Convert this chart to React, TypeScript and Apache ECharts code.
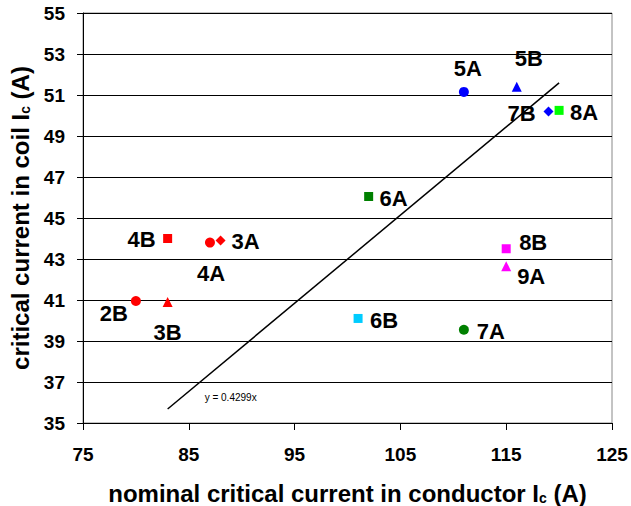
import React, { useEffect, useRef } from "react";
import * as echarts from "echarts";

// Measured samples
const sampleNames = ["2B", "3B", "4A", "4B", "3A", "5A", "5B", "7B", "8A", "6A", "8B", "9A", "6B", "7A"];
const nominalIc = [80, 83, 87, 83, 88, 111, 116, 119, 120, 102, 115, 115, 101, 111];
const coilIc = [40.95, 40.9, 43.8, 44.0, 43.9, 51.15, 51.4, 50.2, 50.25, 46.05, 43.5, 42.65, 40.1, 39.55];

// Trend line y = 0.4299x
const trendSlope = 0.4299;
const trendRange = [83, 120];
const trendLabel = "y = 0.4299x";

// x / y axis ranges
const xTicks = [75, 85, 95, 105, 115, 125];
const yTicks = [35, 37, 39, 41, 43, 45, 47, 49, 51, 53, 55];

// Marker styles per sample (symbol, colour, label offset)
const markerStyle: Record<string, { symbol: string; color: string; size: number; offset: [number, number] }> = {
  "2B": { symbol: "circle", color: "#FF0000", size: 10, offset: [-22, 12] },
  "3B": { symbol: "triangle", color: "#FF0000", size: 10, offset: [0, 30] },
  "4A": { symbol: "circle", color: "#FF0000", size: 10, offset: [1, 31] },
  "4B": { symbol: "rect", color: "#FF0000", size: 9, offset: [-26, 1] },
  "3A": { symbol: "diamond", color: "#FF0000", size: 10, offset: [25, 1] },
  "5A": { symbol: "circle", color: "#0000FF", size: 10, offset: [4, -23] },
  "5B": { symbol: "triangle", color: "#0000FF", size: 10, offset: [12, -28] },
  "7B": { symbol: "diamond", color: "#0000FF", size: 10, offset: [-27, 2] },
  "8A": { symbol: "rect", color: "#00FF00", size: 9, offset: [25, 2] },
  "6A": { symbol: "rect", color: "#008000", size: 9, offset: [25, 2] },
  "8B": { symbol: "rect", color: "#FF00FF", size: 9, offset: [27, -6] },
  "9A": { symbol: "triangle", color: "#FF00FF", size: 10, offset: [25, 10] },
  "6B": { symbol: "rect", color: "#00CCFF", size: 9, offset: [26, 2] },
  "7A": { symbol: "circle", color: "#008000", size: 10, offset: [27, 2] },
};

const FONT = "'Liberation Sans', Arial, Helvetica, sans-serif";

export default function App() {
  const ref = useRef<HTMLDivElement>(null);
  useEffect(() => {
    if (!ref.current) return;
    const chart = echarts.init(ref.current, undefined, { renderer: "svg" });

    const pointData = sampleNames.map((n, i) => {
      const s = markerStyle[n];
      return {
        name: n,
        value: [nominalIc[i], coilIc[i]],
        symbol: s.symbol,
        symbolSize: s.size,
        itemStyle: { color: s.color, opacity: 1 },
        label: {
          show: true,
          position: "inside",
          offset: s.offset,
          formatter: n,
          color: "#000",
          fontFamily: FONT,
          fontWeight: "bold",
          fontSize: 22,
          align: "center",
          verticalAlign: "middle",
        },
      };
    });

    const trendData = trendRange.map((x) => [x, trendSlope * x]);

    const subRich = {
      sub: { fontFamily: FONT, fontWeight: "bold", fontSize: 14, color: "#000", verticalAlign: "bottom", padding: [10, 0, 0, 0] },
    };

    chart.setOption({
      animation: false,
      backgroundColor: "#fff",
      grid: {
        left: 83,
        right: 19,
        top: 13,
        bottom: 83,
        show: true,
        borderColor: "#888",
        borderWidth: 1,
        backgroundColor: "transparent",
        outerBoundsMode: "none",
        containLabel: false,
      },
      xAxis: {
        type: "value",
        min: xTicks[0],
        max: xTicks[xTicks.length - 1],
        interval: 10,
        name: "nominal critical current in conductor I{sub|c} (A)",
        nameLocation: "middle",
        nameGap: 58,
        nameTextStyle: {
          fontFamily: FONT,
          fontWeight: "bold",
          fontSize: 24,
          color: "#000",
          rich: subRich,
        },
        axisLine: { show: true, lineStyle: { color: "#000", width: 1 } },
        axisTick: { show: true, inside: false, length: 7, lineStyle: { color: "#000" } },
        axisLabel: { margin: 22, fontFamily: FONT, fontWeight: "bold", fontSize: 19, color: "#000" },
        splitLine: { show: false },
      },
      yAxis: {
        type: "value",
        min: yTicks[0],
        max: yTicks[yTicks.length - 1],
        interval: 2,
        name: "critical current in coil I{sub|c} (A)",
        nameLocation: "middle",
        nameGap: 51,
        nameTextStyle: {
          fontFamily: FONT,
          fontWeight: "bold",
          fontSize: 24,
          color: "#000",
          rich: subRich,
        },
        axisLine: { show: true, lineStyle: { color: "#000", width: 1 } },
        axisTick: { show: true, inside: false, length: 6, lineStyle: { color: "#000" } },
        axisLabel: { margin: 18, fontFamily: FONT, fontWeight: "bold", fontSize: 19, color: "#000" },
        splitLine: { show: true, lineStyle: { color: "#000", width: 1 } },
      },
      series: [
        {
          type: "line",
          data: trendData,
          showSymbol: false,
          lineStyle: { color: "#000", width: 1.5 },
          z: 1,
        },
        {
          type: "scatter",
          data: [
            {
              value: trendData[0],
              label: {
                show: true,
                position: "inside",
                offset: [63, -12],
                formatter: trendLabel,
                fontFamily: FONT,
                fontSize: 10,
                color: "#000",
                align: "center",
                verticalAlign: "middle",
              },
            },
          ],
          symbolSize: 0,
          itemStyle: { color: "transparent", opacity: 1 },
          silent: true,
        },
        {
          type: "scatter",
          data: pointData,
          z: 3,
        },
      ],
    });
    return () => chart.dispose();
  }, []);
  return <div ref={ref} style={{ width: 631, height: 506, position: "absolute", left: 0, top: 0 }} />;
}
